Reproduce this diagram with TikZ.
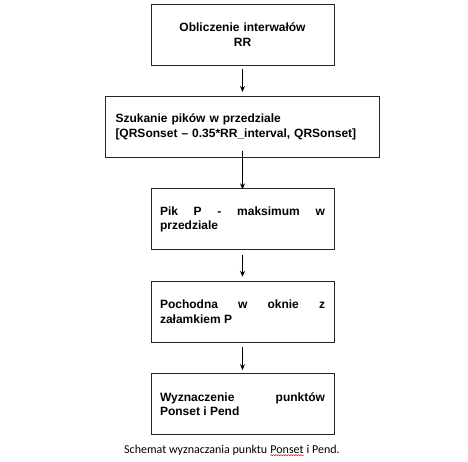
\documentclass[tikz,border=0pt]{standalone}
\usepackage{fontspec}
\setmainfont{Liberation Sans}
\newfontfamily\capfont{Carlito}
\usetikzlibrary{arrows.meta, positioning, calc, decorations.pathmorphing}
\tikzset{>={Stealth[length=6pt,width=5pt]},
    procbox/.style={rectangle,draw=black!85,line width=0.9pt,
        minimum height=61pt,inner xsep=9pt,inner ysep=0pt,
        text width=165pt,align=justify,
        execute at begin node={\tolerance=10000\hyphenpenalty=10000},
        font=\fontsize{12}{14.5}\selectfont\bfseries},
    widebox/.style={procbox,text width=254pt,inner xsep=10pt,align=left},
    arr/.style={->,line width=0.8pt},
    textnode/.style={font=\capfont\fontsize{12}{14}\selectfont,inner sep=0pt}}
\begin{document}
\begin{tikzpicture}
[x=1pt,y=1pt,node distance=30.5pt]
\useasboundingbox (0,0) rectangle (468,-461);
\node[procbox,align=center] (rr) at (242.5,-34.5) {Obliczenie interwałów\\RR};
\node[widebox] (piki) [below=of rr] {Szukanie pików w przedziale\\{[}QRSonset – 0.35*RR\_interval, QRSonset{]}};
\node[procbox] (pik) [below=of piki] {Pik P - maksimum w\linebreak przedziale};
\node[procbox] (poch) [below=of pik] {Pochodna w oknie z\linebreak załamkiem P};
\node[procbox] (wyzn) [below=of poch] {Wyznaczenie punktów\linebreak Ponset i Pend};

\path[arr]
	(rr)	edge	[shorten <=4pt,shorten >=4pt]	(piki)
	(piki)	edge	[shorten <=-7pt,shorten >=-1pt]	(pik)
	(pik)	edge	[shorten <=5pt,shorten >=4pt]	(poch)
	(poch)	edge	[shorten <=4pt,shorten >=3pt]	(wyzn);

% podpis pod schematem
\node[textnode,anchor=base west] (cap1) at (124,-453) {Schemat wyznaczania punktu};
\node[textnode,anchor=base west] (capp) at ($(cap1.base east)+(2.7pt,0)$) {Ponset};
\node[textnode,anchor=base west] (cap2) at ($(capp.base east)+(2.7pt,0)$) {i Pend.};
\draw[red,line width=0.5pt,decoration={snake,amplitude=0.6pt,segment length=2.5pt},decorate]
	($(capp.base west)+(0,-2.2pt)$) -- ($(capp.base east)+(0,-2.2pt)$);
\end{tikzpicture}
\end{document}
